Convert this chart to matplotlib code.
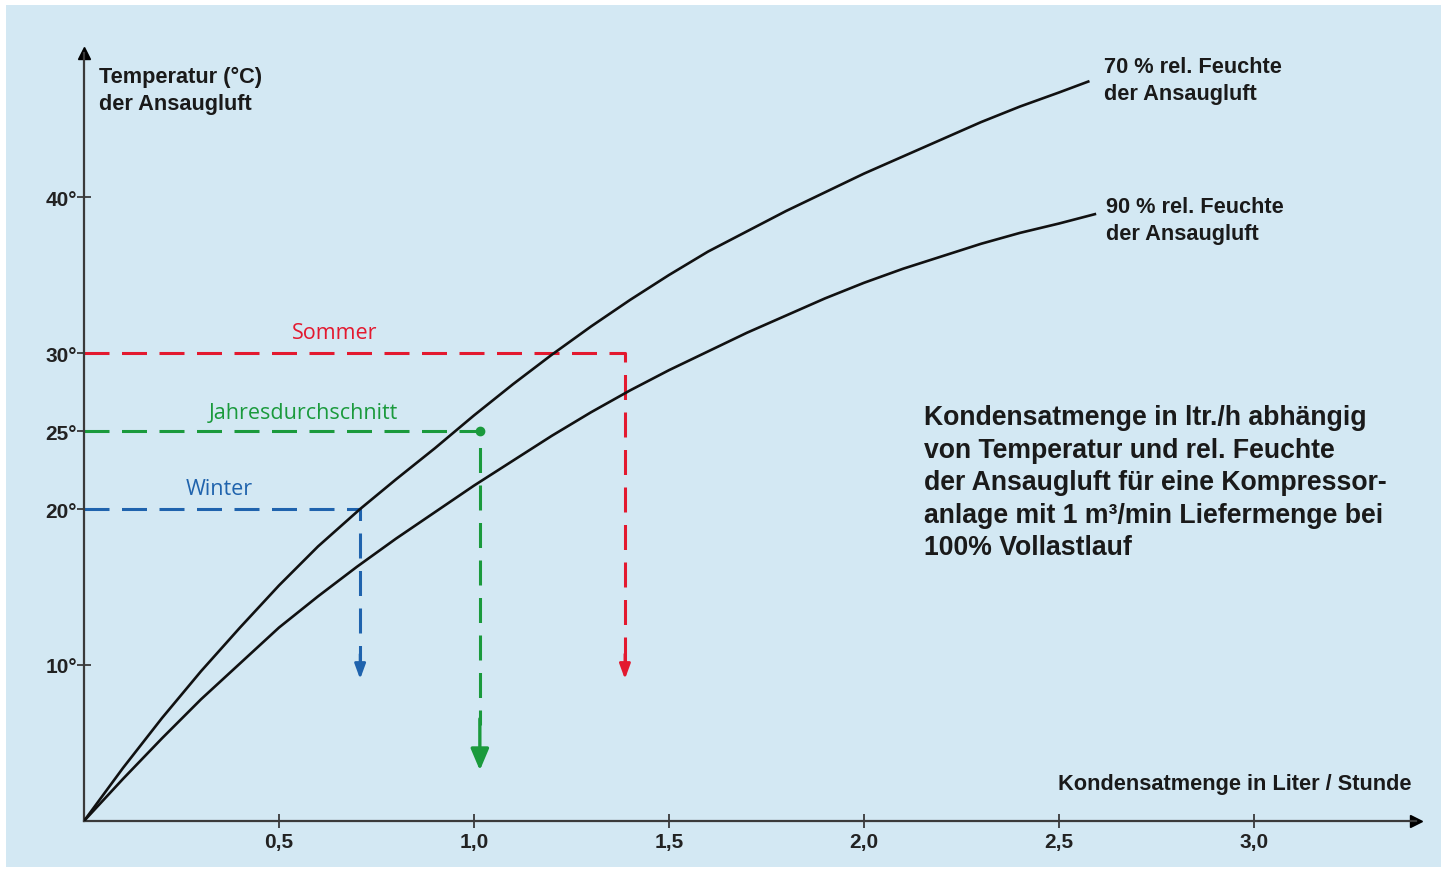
import matplotlib.pyplot as plt
from matplotlib.patches import Rectangle

plt.rcParams["lines.scale_dashes"] = False

# Kondensatmenge (l/h) vs. Temperatur der Ansaugluft (°C)
x_70 = [0.0, 0.1, 0.2, 0.3, 0.4, 0.5, 0.6, 0.708, 0.8, 0.9, 1.0, 1.1, 1.2, 1.3, 1.4,
        1.5, 1.6, 1.7, 1.8, 1.9, 2.0, 2.1, 2.2, 2.3, 2.4, 2.5, 2.575]
t_70 = [0.0, 3.4, 6.6, 9.6, 12.4, 15.1, 17.6, 20.0, 21.9, 23.9, 26.0, 28.0, 29.9, 31.7, 33.4,
        35.0, 36.5, 37.8, 39.1, 40.3, 41.5, 42.6, 43.7, 44.8, 45.8, 46.7, 47.4]

x_90 = [0.0, 0.1, 0.2, 0.3, 0.4, 0.5, 0.6, 0.7, 0.8, 0.9, 1.0, 1.1, 1.2, 1.3, 1.4,
        1.5, 1.6, 1.7, 1.8, 1.9, 2.0, 2.1, 2.2, 2.3, 2.4, 2.5, 2.592]
t_90 = [0.0, 2.7, 5.3, 7.8, 10.1, 12.4, 14.4, 16.3, 18.1, 19.8, 21.5, 23.1, 24.7, 26.2, 27.6,
        28.9, 30.1, 31.3, 32.4, 33.5, 34.5, 35.4, 36.2, 37.0, 37.7, 38.3, 38.9]

season_names = ["Winter", "Jahresdurchschnitt", "Sommer"]
season_temp = [20, 25, 30]
season_flow = [0.708, 1.015, 1.387]
season_tip = [9.1, 3.25, 9.1]
season_colors = ["#1f63ad", "#1a9a3c", "#e3192f"]

x_ticks = [0.5, 1.0, 1.5, 2.0, 2.5, 3.0]
x_ticklabels = ["0,5", "1,0", "1,5", "2,0", "2,5", "3,0"]
y_ticks = [10, 20, 25, 30, 40]
y_ticklabels = ["10°", "20°", "25°", "30°", "40°"]

BG = "#d3e8f3"
AXC = "#3a3a3a"
TXT = "#1a1a1a"
BOLD = dict(family=["Liberation Sans", "DejaVu Sans"], fontweight="bold")
LIGHT = dict(family=["Open Sans", "DejaVu Sans"])

fig = plt.figure(figsize=(14.47, 8.70), dpi=100, facecolor="white")
fig.patches.append(Rectangle((6 / 1447, 2 / 870), 1435 / 1447, 862 / 870,
                             transform=fig.transFigure, facecolor=BG,
                             edgecolor="none", zorder=-10))

ax = fig.add_axes([84 / 1447, 48 / 870, 1332 / 1447, 768 / 870])
ax.patch.set_alpha(0)
ax.set_xlim(0, 1332 / 390)
ax.set_ylim(0, 768 / 15.6)

for s in ["top", "right"]:
    ax.spines[s].set_visible(False)
for s in ["left", "bottom"]:
    ax.spines[s].set_color(AXC)
    ax.spines[s].set_linewidth(1.6)
ax.plot(1, 0, ">", color="black", ms=9, transform=ax.get_yaxis_transform(), clip_on=False)
ax.plot(0, 1, "^", color="black", ms=9, transform=ax.get_xaxis_transform(), clip_on=False)

ax.set_xticks(x_ticks)
ax.set_xticklabels(x_ticklabels, **BOLD, fontsize=15, color="#222")
ax.set_yticks(y_ticks)
ax.set_yticklabels(y_ticklabels, **BOLD, fontsize=15, color="#222")
ax.tick_params(direction="inout", length=10, width=1.3, color=AXC, pad=3)
ax.tick_params(axis="y", pad=0)

# Kurven
ax.plot(x_70, t_70, color="#111", lw=1.9, zorder=3)
ax.plot(x_90, t_90, color="#111", lw=1.9, zorder=3)

# Jahreszeiten-Linien
for name, t, q, tip, c in zip(season_names, season_temp, season_flow, season_tip, season_colors):
    big = name == "Jahresdurchschnitt"
    stop = tip + (2.9 if big else 1.0)
    ax.plot([0, q, q], [t, t, stop], color=c, lw=2.2, dashes=(18, 9), zorder=2)
    if big:
        ax.plot(q, t, "o", color=c, ms=6, zorder=4)
        ax.annotate("", xy=(q, tip), xytext=(q, tip + 3.3),
                    arrowprops=dict(arrowstyle="-|>,head_length=1.3,head_width=0.55",
                                    color=c, lw=2.4, shrinkA=0, shrinkB=0))
    else:
        ax.annotate("", xy=(q, tip), xytext=(q, tip + 1.6),
                    arrowprops=dict(arrowstyle="-|>,head_length=0.9,head_width=0.33",
                                    color=c, lw=2.0, shrinkA=0, shrinkB=0))

ax.text(0.643, 31.3, "Sommer", color=season_colors[2], fontsize=15.5,
        ha="center", va="center", **LIGHT)
ax.text(0.562, 26.2, "Jahresdurchschnitt", color=season_colors[1], fontsize=15.5,
        ha="center", va="center", **LIGHT)
ax.text(0.348, 21.3, "Winter", color=season_colors[0], fontsize=15.5,
        ha="center", va="center", **LIGHT)

# Beschriftungen
ax.text(0.038, 48.4, "Temperatur (°C)\nder Ansaugluft", fontsize=15.7, color=TXT,
        va="top", ha="left", linespacing=1.38, **BOLD)
ax.text(2.615, 49.05, "70 % rel. Feuchte\nder Ansaugluft", fontsize=15.7, color=TXT,
        va="top", ha="left", linespacing=1.38, **BOLD)
ax.text(2.62, 40.05, "90 % rel. Feuchte\nder Ansaugluft", fontsize=15.7, color=TXT,
        va="top", ha="left", linespacing=1.33, **BOLD)
ax.text(3.403, 2.4, "Kondensatmenge in Liter / Stunde", fontsize=15.7, color=TXT,
        va="center", ha="right", **BOLD)
ax.text(2.155, 26.7,
        "Kondensatmenge in ltr./h abhängig\nvon Temperatur und rel. Feuchte\n"
        "der Ansaugluft für eine Kompressor-\nanlage mit 1 m³/min Liefermenge bei\n"
        "100% Vollastlauf",
        fontsize=19.2, color=TXT, va="top", ha="left", linespacing=1.32, **BOLD)

fig.savefig("out.png", dpi=100, facecolor="white")
